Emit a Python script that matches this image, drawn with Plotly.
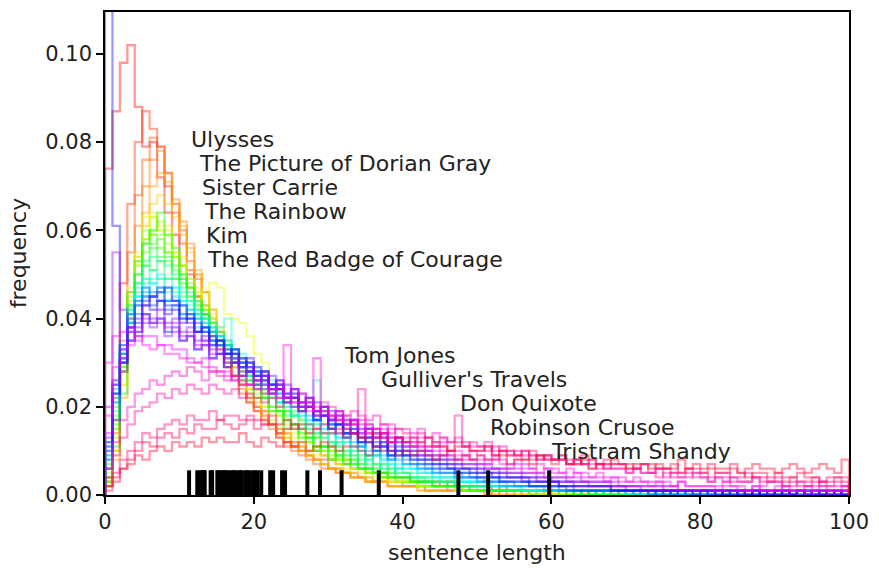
import colorsys
import plotly.graph_objects as go

# ---------------- data (frequencies in units of 0.001, bins of width 1 from 0 to 100) -------------
books_short = ["Ulysses", "The Picture of Dorian Gray", "Sister Carrie", "The Rainbow", "Kim",
               "The Red Badge of Courage"]
books_long = ["Tom Jones", "Gulliver's Travels", "Don Quixote", "Robinson Crusoe", "Tristram Shandy"]

mean_lengths = [11.3, 12.4, 12.8, 13.1, 13.3, 13.4,
                14.2, 14.4, 15.1, 15.3, 15.6, 15.9, 16.1, 16.3, 16.7, 17.1, 17.3, 17.5, 18.0, 18.2,
                18.4, 18.9, 19.1, 19.4, 19.9, 20.2, 20.5, 21.0, 22.2, 22.6, 23.8, 24.2,
                27.2, 28.9, 31.8, 36.8, 47.5, 51.5, 59.7]

h00 = [74,87,98,102,88,79,80,72,64,59, 52,50,45,41,36,34,30,27,25,22, 20,19,16,15,14,12,11,10,10,9,
       8,7,7,6,6,5,5,5,4,4, 4,3,3,3,3,2,3,2,2,2, 2,2,1,2,1,1,1,1,1,1, 1,1,1,1,0,1,1,0,1,0,
       1,0,0,1,0,0,1,0,0,0, 0,0,1,0,0,0,0,1,0,0, 0,0,0,0,1,0,0,0,0,0]
h01 = [4,22,48,66,80,87,83,79,70,64, 57,51,45,41,37,33,29,27,23,21, 19,17,16,13,12,11,10,9,8,8,
       6,6,5,5,4,4,3,4,3,3, 2,2,2,2,2,2,1,1,1,1, 1,1,1,1,1,1,0,1,0,1, 0,1,0,0,0,1,0,0,0,0,
       0,0,0,1,0,0,0,0,0,0, 0,0,0,0,0,0,0,0,0,0, 0,0,0,0,0,0,0,0,0,0]
h02 = [3,14,35,55,68,76,81,79,73,66, 60,53,49,43,39,34,31,27,24,21, 19,17,15,13,11,10,9,8,7,6,
       6,5,5,4,4,3,3,3,2,2, 2,2,2,1,1,1,1,1,1,1, 1,1,0,1,0,0,1,0,0,0, 0,0,0,0,1,0,0,0,0,0,
       0,0,0,0,0,0,0,0,0,0, 0,0,0,0,0,0,0,0,0,0, 0,0,0,0,0,0,0,0,0,0]
h03 = [2,10,28,46,61,70,76,78,73,67, 62,57,50,46,40,37,32,29,25,22, 20,18,16,14,12,11,10,9,8,7,
       6,5,5,4,4,3,3,3,2,2, 2,2,1,1,1,1,1,1,1,1, 1,0,1,0,0,1,0,0,0,0, 0,0,1,0,0,0,0,0,0,0,
       0,0,0,0,0,0,0,0,0,0, 0,0,0,0,0,0,0,0,0,0, 0,0,0,0,0,0,0,0,0,0]
h04 = [2,8,22,40,54,64,70,73,71,66, 61,56,51,46,42,37,33,29,26,23, 21,18,16,14,13,11,10,9,8,7,
       6,6,5,4,4,3,3,3,2,2, 2,2,2,1,1,1,1,1,1,1, 1,0,1,0,1,0,0,0,0,0, 0,0,0,0,0,1,0,0,0,0,
       0,0,0,0,0,0,0,0,0,0, 0,0,0,0,0,0,0,0,0,0, 0,0,0,0,0,0,0,0,0,0]
h05 = [3,10,25,40,52,61,66,68,66,63, 59,55,50,46,42,38,34,31,27,24, 22,19,17,15,13,12,10,9,8,7,
       6,6,5,4,4,3,3,3,2,2, 2,2,1,1,1,1,1,1,1,1, 1,1,0,1,0,0,0,1,0,0, 0,0,0,0,0,0,0,0,0,0,
       0,0,0,0,0,0,0,0,0,0, 0,0,0,0,0,0,0,0,0,0, 0,0,0,0,0,0,0,0,0,0]
h06 = [3,13,29,47,55,63,64,61,61,55, 54,49,47,42,41,35,35,30,29,24, 24,20,19,18,14,14,11,12,9,9,
       8,8,6,6,5,5,4,4,3,3, 3,3,2,2,2,2,2,1,1,1, 1,1,1,1,1,1,1,0,1,0, 1,0,1,0,0,1,0,0,0,0,
       0,0,0,0,1,0,0,0,0,0, 0,0,0,0,0,0,0,0,0,0, 0,0,0,0,0,0,0,0,0,0]
h07 = [2,9,25,39,53,58,63,60,59,54, 52,47,46,42,48,47,41,40,39,36, 32,30,25,24,19,18,17,13,13,10,
       10,7,8,6,6,5,5,4,3,3, 3,3,2,2,2,2,2,1,1,1, 1,1,1,1,1,1,0,1,0,1, 0,0,1,0,0,0,1,0,0,0,
       0,0,0,0,0,0,0,0,0,0, 0,0,0,0,0,0,0,0,0,0, 0,0,0,0,0,0,0,0,0,0]
h08 = [4,10,28,41,54,58,63,60,60,54, 52,47,46,40,39,35,33,29,28,24, 24,20,20,16,17,13,13,10,11,9,
       9,7,8,5,6,4,5,4,4,3, 3,3,2,2,2,2,2,1,1,1, 1,1,1,1,1,1,1,1,0,1, 1,0,1,0,1,0,0,1,0,0,
       0,0,0,1,0,0,0,0,0,0, 0,0,0,0,0,0,0,0,0,0, 0,0,0,0,0,0,0,0,0,0]
h08b = [5,13,30,44,52,58,60,62,57,55, 52,49,45,41,40,36,34,31,29,26, 25,22,20,19,17,15,14,12,11,10,
        9,8,8,6,6,5,5,4,4,3, 3,3,2,2,2,2,2,1,1,1, 1,1,1,1,1,0,1,1,0,1, 0,1,0,0,1,0,0,1,0,0,
        0,0,0,0,0,1,0,0,0,0, 0,0,0,0,0,0,0,0,0,0, 0,0,0,0,0,0,0,0,0,0]
h09 = [4,15,29,45,53,60,59,59,55,54, 49,48,43,43,37,37,32,31,27,27, 23,23,19,19,16,16,12,13,10,11,
       8,9,7,7,6,5,5,4,4,4, 3,3,3,2,2,2,2,2,1,1, 1,1,1,1,1,1,1,1,1,0, 1,1,0,1,0,1,0,0,1,0,
       0,0,1,0,0,0,0,1,0,0, 0,0,0,0,0,0,0,0,0,0, 0,0,0,0,0,0,0,0,0,0]
h10 = [6,15,32,43,53,55,59,56,55,51, 50,45,44,40,39,34,34,30,29,25, 25,22,22,18,19,15,15,12,13,10,
       11,8,9,7,7,6,6,4,5,4, 4,3,3,3,2,2,2,2,2,1, 1,1,1,1,1,1,1,1,1,1, 1,1,0,1,1,0,1,0,0,1,
       0,1,0,0,1,0,0,0,0,0, 0,0,0,0,0,1,0,0,0,0, 0,0,0,0,0,0,0,0,0,0]
h10b = [4,17,29,46,50,57,57,58,53,52, 48,47,42,42,37,36,32,32,28,27, 24,23,20,20,17,16,14,14,11,11,
        10,9,8,8,6,6,5,5,4,4, 4,3,3,3,2,2,2,2,1,2, 1,1,1,1,1,1,1,0,1,1, 1,0,1,0,1,0,1,0,0,1,
        0,0,1,0,0,0,0,0,1,0, 0,0,0,0,0,0,0,0,0,0, 0,0,0,0,0,0,0,0,0,0]
h11 = [3,11,23,39,48,57,60,64,59,56, 50,47,41,40,36,35,30,30,26,26, 22,22,19,19,15,16,13,13,10,11,
       8,10,7,8,6,6,5,5,4,4, 4,3,3,3,2,2,2,2,2,1, 1,1,1,1,1,1,1,1,1,1, 1,1,1,0,1,0,1,0,1,0,
       0,1,0,0,0,1,0,0,0,0, 0,0,0,0,0,0,0,0,0,0, 0,0,0,0,0,0,0,0,0,0]
h12 = [7,16,32,41,50,52,56,54,54,49, 49,44,44,39,38,34,34,30,30,26, 26,22,23,19,19,16,16,13,14,11,
       12,9,10,7,9,6,7,5,6,4, 4,4,3,3,3,3,2,2,2,2, 2,1,1,1,1,1,1,1,1,1, 1,1,1,1,0,1,0,1,0,1,
       0,0,1,0,0,1,0,0,0,0, 0,0,0,1,0,0,0,0,0,0, 0,0,0,0,0,0,1,0,0,0]
h13 = [6,20,31,42,46,52,51,53,49,49, 45,45,41,41,37,37,33,33,29,29, 25,25,22,22,18,19,15,16,13,14,
       11,12,9,10,7,9,6,7,5,6, 5,4,4,4,3,3,3,2,2,2, 2,2,2,1,1,1,1,1,1,1, 1,1,1,1,1,0,1,1,0,1,
       0,1,0,1,0,0,1,0,0,0, 0,0,1,0,0,0,0,1,0,0, 0,0,0,0,1,0,0,0,0,0]
h13b = [8,18,30,43,48,53,54,53,52,50, 47,46,43,41,39,36,35,32,31,28, 27,24,23,21,20,18,17,15,14,13,
        12,11,10,9,8,8,7,6,6,5, 5,4,4,3,3,3,3,2,2,2, 2,2,1,1,1,1,1,1,1,1, 1,1,1,0,1,1,0,1,0,1,
        0,1,0,0,1,0,0,0,1,0, 0,0,0,1,0,0,0,0,0,0, 0,0,1,0,0,0,0,0,0,0]
h14 = [9,19,33,39,47,48,51,49,49,46, 46,42,42,38,38,34,34,31,31,27, 28,24,24,21,21,18,18,15,16,13,
       14,11,12,9,10,7,9,6,7,5, 5,5,4,4,4,3,3,3,3,2, 2,2,2,2,1,1,1,1,1,1, 1,1,1,1,1,1,0,1,1,0,
       1,0,1,0,1,0,0,1,0,0, 0,0,1,0,0,0,1,0,0,0, 0,1,0,0,0,0,0,1,0,0]
h15 = [8,23,32,42,45,49,48,49,46,47, 43,43,40,40,36,38,40,30,30,27, 27,24,25,21,22,18,19,16,17,14,
       15,12,13,10,11,8,9,7,8,6, 6,6,5,5,4,4,4,3,3,3, 2,2,2,2,2,2,1,1,1,1, 1,1,1,1,1,1,1,1,1,0,
       1,0,1,1,0,0,1,0,1,0, 0,1,0,0,1,0,0,0,1,0, 0,0,1,0,0,0,0,1,0,0]
h15b = [10,21,31,41,45,49,49,50,47,47, 44,44,40,40,37,36,33,33,29,29, 26,26,23,23,20,20,18,17,16,15,
        14,13,12,11,10,9,9,8,7,7, 6,6,5,5,4,4,4,3,3,3, 3,2,2,2,2,2,1,1,1,1, 1,1,1,1,1,1,1,0,1,1,
        0,1,0,1,0,1,0,0,1,0, 1,0,0,0,1,0,0,1,0,0, 0,0,1,0,0,0,1,0,0,0]
h16 = [11,22,34,39,45,45,48,46,47,44, 44,41,41,37,38,34,35,31,32,28, 29,25,26,23,23,20,21,17,26,15,
       16,13,14,11,12,9,10,8,9,6, 7,6,6,5,5,4,4,4,3,3, 3,3,2,2,2,2,2,2,1,1, 1,1,1,1,1,1,1,1,1,1,
       1,1,0,1,0,1,0,1,0,0, 1,0,0,1,0,0,1,0,0,0, 0,1,0,0,0,1,0,0,0,0]
h17 = [12,26,33,41,43,47,45,46,44,45, 41,42,38,39,35,36,32,33,29,30, 27,27,24,25,22,22,19,20,17,18,
       15,16,13,14,11,12,9,10,8,9, 7,7,6,6,5,5,5,4,4,4, 3,3,3,3,2,2,2,2,2,2, 1,1,1,1,1,1,1,1,1,1,
       1,1,1,0,1,0,1,0,1,0, 0,1,0,1,0,0,1,0,0,1, 0,0,1,0,0,0,1,0,0,0]
h17b = [9,24,33,39,44,46,45,47,44,44, 43,40,40,37,37,34,34,31,31,28, 28,25,25,23,22,20,20,18,17,16,
        15,14,13,12,12,10,10,9,9,8, 7,7,6,6,5,5,5,4,4,4, 3,3,3,2,2,2,2,2,2,1, 1,1,1,1,1,1,1,1,1,1,
        1,0,1,1,0,1,0,1,0,0, 1,0,1,0,0,1,0,0,1,0, 0,1,0,0,1,0,0,0,1,0]
h18 = [8,21,31,41,44,47,46,47,44,44, 41,41,37,38,35,35,32,32,29,30, 26,27,24,24,21,22,19,20,17,18,
       15,16,13,14,11,12,10,11,8,10, 8,7,7,6,6,5,5,5,4,4, 4,3,3,3,3,2,2,2,2,2, 2,1,1,1,1,1,1,1,1,1,
       1,1,1,1,0,1,1,0,1,0, 1,0,1,0,1,0,0,1,0,0, 1,0,0,1,0,0,0,1,0,0]
h19 = [11,25,32,40,41,45,43,44,42,43, 40,40,37,38,34,35,32,33,29,30, 27,28,24,25,22,23,20,21,18,19,
       16,17,14,15,12,13,10,12,9,10, 9,8,7,7,6,6,6,5,5,4, 4,4,4,3,3,3,3,2,2,2, 2,2,2,1,1,1,1,1,1,1,
       1,1,1,1,1,0,1,1,0,1, 0,1,0,1,1,0,0,1,0,0, 1,0,0,1,0,0,1,0,0,0]
h19b = [12,23,34,38,43,44,45,44,43,43, 40,41,37,38,35,35,32,32,30,29, 27,27,25,24,22,22,20,20,18,18,
        16,16,14,14,13,12,11,11,10,9, 9,8,8,7,7,6,6,5,5,5, 4,4,4,3,3,3,3,2,2,2, 2,2,1,1,1,1,1,1,1,1,
        1,1,1,0,1,1,0,1,1,0, 1,0,1,0,0,1,0,1,0,0, 1,0,0,1,0,1,0,0,1,0]
h20 = [130,61,30,35,37,41,39,40,37,38, 35,36,33,34,31,32,29,30,27,28, 25,26,23,24,21,22,19,20,17,18,
       15,16,14,15,12,13,11,12,9,11, 9,9,8,8,7,7,6,6,6,5, 5,5,4,4,4,4,3,3,3,3, 3,2,2,2,2,2,2,2,1,1,
       1,1,1,1,1,1,1,1,1,1, 1,1,1,0,1,1,0,1,0,1, 0,1,0,1,0,0,1,0,1,0]
h21 = [10,23,30,38,39,43,42,44,41,42, 39,40,37,37,34,35,32,33,30,31, 28,28,25,26,23,24,21,22,19,20,
       17,18,15,16,13,15,12,13,10,12, 10,9,9,8,8,7,7,6,6,6, 5,5,5,4,4,4,4,3,3,3, 3,2,2,2,2,2,2,2,1,1,
       1,1,1,1,1,1,1,1,1,1, 1,1,0,1,1,0,1,0,1,1, 0,1,0,1,0,1,0,0,1,0]
h22 = [6,17,28,35,40,43,45,46,47,44, 43,39,39,35,36,32,33,30,31,28, 29,26,27,24,25,22,23,20,21,18,
       19,16,17,14,16,13,14,11,13,10, 10,10,9,9,8,8,7,7,6,6, 6,5,5,5,4,4,4,4,3,3, 3,3,3,2,2,2,2,2,2,2,
       1,1,1,1,1,1,1,1,1,1, 1,1,1,1,0,1,1,0,1,0, 1,0,1,0,1,0,0,1,0,1]
h23 = [13,25,30,37,38,41,40,42,39,40, 37,38,35,36,33,34,31,32,29,30, 27,28,25,26,23,24,21,22,19,20,
       17,19,16,17,14,15,13,14,11,13, 11,10,10,9,9,8,8,7,7,7, 6,6,6,5,5,5,4,4,4,4, 3,3,3,3,3,2,2,2,2,2,
       2,2,1,1,1,1,1,1,1,1, 1,1,1,1,1,1,0,1,1,0, 1,1,0,1,0,1,0,1,0,1]
h24 = [20,55,42,38,36,39,38,39,36,37, 35,36,33,34,31,32,29,30,27,28, 26,27,24,25,22,23,20,21,19,20,
       17,18,16,17,14,15,13,14,12,13, 11,11,10,10,9,9,8,8,7,7, 7,6,6,6,5,5,5,5,4,4, 4,4,3,3,3,3,3,3,2,2,
       2,2,2,2,2,1,1,1,1,1, 1,1,1,1,1,1,1,1,1,1, 1,1,0,1,1,0,1,1,0,1]
h25 = [14,26,31,37,37,40,39,40,38,39, 36,37,34,35,32,33,30,31,28,29, 26,27,24,25,22,24,21,22,19,20,
       17,19,16,17,15,16,13,15,12,13, 12,11,11,10,10,9,9,8,8,8, 7,7,6,6,6,6,5,5,5,4, 4,4,4,4,3,3,3,3,3,2,
       2,2,2,2,2,2,2,1,1,1, 1,1,1,1,1,1,1,1,1,1, 1,1,1,1,0,1,1,0,1,1]
h26 = [30,36,37,38,35,36,36,34,34,33, 33,31,30,31,29,28,28,26,27,25, 24,25,23,22,22,21,20,20,19,18,
       18,17,16,17,15,14,15,13,13,12, 12,12,11,10,11,10,9,9,9,8, 8,7,8,7,6,7,6,6,5,6, 5,5,4,5,4,4,4,3,4,3,
       3,3,3,2,3,2,2,3,2,2, 2,2,1,2,2,1,1,2,1,1, 1,2,1,1,1,1,2,1,1,1]
h27 = [18,29,33,34,36,34,33,34,32,32, 31,30,30,29,28,28,27,26,26,25, 24,23,24,22,34,21,21,19,31,19,
       18,18,17,16,17,15,15,14,15,13, 13,12,13,11,11,12,10,10,9,10, 9,8,9,8,7,8,7,6,7,6, 6,5,6,5,5,4,5,4,4,4,
       3,4,3,3,3,3,2,3,2,2, 2,2,2,3,2,2,1,2,1,1, 2,1,1,1,2,1,1,1,1,2]
h28 = [6,12,17,20,23,24,26,25,27,28, 27,29,28,26,28,27,26,27,25,25, 26,24,23,24,22,22,23,21,20,21,
       20,19,18,19,18,17,18,16,16,15, 15,14,15,13,14,13,12,13,12,11, 11,12,10,11,10,9,10,9,8,9,
       8,8,7,8,7,7,6,7,6,6, 5,6,5,5,6,4,5,4,4,5, 4,3,4,3,4,3,3,4,2,3, 3,2,2,3,2,2,3,2,2,2]
h29 = [4,9,13,16,19,20,21,23,22,24, 23,25,24,23,25,24,23,24,22,23, 22,21,22,20,21,20,19,20,18,19,
       18,17,18,16,24,16,15,16,14,15, 14,13,14,13,12,13,12,18,11,12, 11,10,11,10,9,10,9,9,8,9,
       8,8,7,8,7,6,7,6,6,6, 5,6,5,5,4,5,4,4,5,4, 4,3,4,4,3,3,3,4,3,3, 3,2,3,2,2,3,2,2,3,2]
h30 = [2,5,8,10,12,14,13,15,16,17, 16,18,17,17,19,17,18,18,17,18, 17,16,18,16,17,15,16,16,15,16,
       15,14,15,14,13,14,13,14,12,13, 12,13,12,11,12,11,10,11,11,10, 10,11,9,10,9,9,10,8,9,8,
       8,9,7,8,7,8,7,6,7,7, 6,6,7,5,6,6,5,5,6,5, 5,4,5,5,4,4,5,4,4,3, 4,3,4,3,3,4,3,3,4,3]
h31 = [1,3,6,8,10,12,11,13,14,13, 15,14,16,15,15,17,16,15,16,17, 15,16,16,14,15,16,15,14,15,14,
       14,15,13,14,13,12,14,13,12,13, 12,11,12,13,11,11,10,12,11,10, 10,11,9,10,10,9,8,10,9,9,
       8,9,8,7,9,8,7,8,7,7, 7,6,7,7,6,6,7,5,6,6, 5,6,5,5,6,5,4,5,5,4, 5,4,4,5,4,4,3,4,4,4]
h32 = [2,4,6,7,9,8,10,11,10,12, 11,12,11,13,12,13,12,12,14,12, 11,13,12,11,12,11,12,10,11,12,
       11,10,11,11,10,9,11,10,10,9, 10,9,10,9,8,9,10,8,9,8, 9,8,8,9,7,8,8,7,9,8,
       7,8,7,7,8,6,7,7,8,7, 6,7,7,6,7,6,6,8,6,7, 6,7,6,6,7,5,6,7,6,6, 5,6,7,6,5,6,7,6,5,8]

# one histogram per book, in the same order as mean_lengths
histograms = [h00, h01, h02, h03, h04, h05, h06, h07, h08, h08b, h09, h10, h10b, h11, h12, h13, h13b,
              h14, h15, h15b, h16, h17, h17b, h18, h19, h19b, h20, h21, h22, h23, h24, h25,
              h26, h27, h28, h29, h30, h31, h32]

x_ticks = [0, 20, 40, 60, 80, 100]
y_ticks = [0.00, 0.02, 0.04, 0.06, 0.08, 0.10]

# ---------------- figure ----------------
FONT = "DejaVu Sans"
fig = go.Figure()
n = len(histograms)
for i, vals in enumerate(histograms):
    r, g, b = colorsys.hsv_to_rgb(i / n, 1.0, 1.0)
    color = f"rgba({int(r*255)},{int(g*255)},{int(b*255)},0.4)"
    nb = len(vals)
    xs = [0] + list(range(nb)) + [nb, nb]
    ys = [0] + [v / 1000 for v in vals] + [vals[-1] / 1000, 0]
    fig.add_trace(go.Scatter(x=xs, y=ys, mode="lines", line=dict(color=color, width=2.3, shape="hv"),
                             hoverinfo="skip", showlegend=False))

# rug of mean sentence lengths
rx, ry = [], []
for m in mean_lengths:
    rx += [m, m, None]
    ry += [0, 0.0056, None]
fig.add_trace(go.Scatter(x=rx, y=ry, mode="lines", line=dict(color="black", width=4),
                         hoverinfo="skip", showlegend=False))

annotations = []
for k, name in enumerate(books_short):
    annotations.append(dict(x=mean_lengths[k], y=0.0806 - k * 0.00545, text=name, showarrow=False,
                            xanchor="left", yanchor="middle", font=dict(family=FONT, size=22, color="#222")))
for k, name in enumerate(books_long):
    annotations.append(dict(x=mean_lengths[len(mean_lengths) - len(books_long) + k], y=0.0316 - k * 0.00545,
                            text=name, showarrow=False, xanchor="left", yanchor="middle",
                            font=dict(family=FONT, size=22, color="#222")))
annotations.append(dict(xref="paper", yref="paper", x=0.5, y=-0.12, text="sentence length", showarrow=False,
                        xanchor="center", yanchor="middle", font=dict(family=FONT, size=22, color="#222")))
annotations.append(dict(xref="paper", yref="paper", x=-0.116, y=0.5, text="frequency", showarrow=False,
                        textangle=-90, xanchor="center", yanchor="middle",
                        font=dict(family=FONT, size=22, color="#222")))

axis_common = dict(showline=True, linecolor="black", linewidth=1.6, mirror=True, ticks="outside",
                   ticklen=7, tickwidth=1.6, tickcolor="black", showgrid=False, zeroline=False,
                   tickfont=dict(family=FONT, size=21, color="#222"))
fig.update_layout(
    width=879, height=568,
    margin=dict(l=105, r=24, t=10, b=73),
    paper_bgcolor="white", plot_bgcolor="white",
    xaxis=dict(range=[0, 100], tickvals=x_ticks, **axis_common),
    yaxis=dict(range=[0, 0.1095], tickvals=y_ticks, tickformat=".2f", **axis_common),
    annotations=annotations,
    font=dict(family=FONT),
)
fig.write_html("out.html")
